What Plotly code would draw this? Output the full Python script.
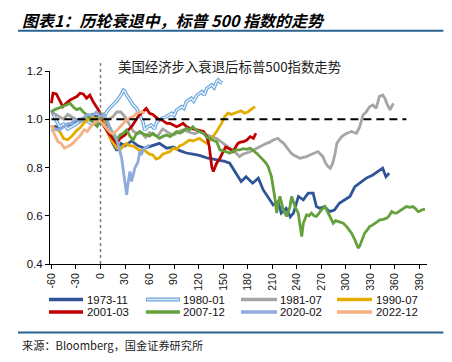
import plotly.graph_objects as go

# ---------------- data (x: trading days from recession start, y: S&P500 relative level)
s1973_11 = [(-60,0.96),(-55,0.97),(-50,0.96),(-45,0.97),(-40,0.98),(-35,0.97),(-30,0.99),(-25,1.0),(-20,1.0),(-15,1.01),(-10,1.02),(-5,1.01),(0,1.02),(5,0.99),(10,0.94),(15,0.9),(20,0.87),(25,0.9),(30,0.89),(38,0.91),(46,0.89),(54,0.88),(64,0.89),(72,0.9),(81,0.88),(89,0.885),(97,0.87),(105,0.86),(113,0.855),(121,0.85),(130,0.84),(138,0.835),(146,0.831),(152,0.825),(158,0.818),(166,0.776),(172,0.742),(178,0.762),(186,0.735),(193,0.756),(199,0.707),(207,0.666),(211,0.645),(217,0.659),(221,0.611),(227,0.631),(232,0.595),(236,0.611),(242,0.68),(248,0.666),(254,0.694),(260,0.694),(264,0.638),(268,0.631),(274,0.638),(280,0.617),(286,0.624),(292,0.652),(298,0.666),(305,0.68),(311,0.721),(317,0.735),(325,0.756),(333,0.769),(339,0.783),(345,0.797),(349,0.762),(353,0.776)]

s1980_01 = [(-60,1.04),(-55,1.0),(-50,0.97),(-45,0.98),(-40,0.96),(-35,0.97),(-30,0.98),(-25,0.99),(-20,1.0),(-15,0.99),(-10,0.98),(-5,0.99),(0,1.0),(3,1.004),(9,1.038),(15,1.059),(21,1.08),(25,1.1),(28,1.12),(30,1.115),(32,1.1),(36,1.08),(40,1.059),(44,1.045),(48,1.018),(52,0.99),(54,0.955),(58,0.969),(62,0.976),(66,0.96),(69,0.99),(75,1.004),(81,1.011),(87,1.025),(90,1.015),(93,1.038),(99,1.052),(102,1.045),(105,1.073),(111,1.087),(114,1.075),(118,1.1),(124,1.114),(127,1.1),(130,1.128),(136,1.142),(139,1.13),(142,1.156),(144,1.163),(146,1.155),(149,1.15)]

s1981_07 = [(-60,1.03),(-55,1.02),(-50,1.01),(-45,1.0),(-40,1.02),(-35,1.01),(-30,1.0),(-25,0.99),(-20,1.0),(-15,1.01),(-10,1.0),(-5,1.0),(0,1.0),(5,1.0),(10,1.0),(15,1.01),(20,1.03),(25,1.03),(30,1.01),(35,0.98),(40,0.95),(45,0.94),(50,0.945),(55,0.925),(60,0.945),(65,0.935),(70,0.93),(76,0.96),(80,0.95),(85,0.94),(90,0.935),(96,0.95),(101,0.956),(105,0.95),(110,0.945),(115,0.94),(121,0.949),(126,0.94),(130,0.935),(138,0.928),(142,0.92),(146,0.91),(150,0.9),(154,0.887),(158,0.88),(162,0.873),(166,0.86),(170,0.845),(174,0.855),(179,0.859),(183,0.865),(187,0.873),(191,0.88),(195,0.887),(199,0.895),(203,0.9),(207,0.905),(211,0.914),(217,0.921),(220,0.91),(224,0.9),(227,0.885),(230,0.873),(233,0.86),(236,0.852),(240,0.845),(244,0.838),(248,0.842),(252,0.845),(256,0.852),(260,0.859),(263,0.862),(266,0.866),(269,0.855),(272,0.845),(275,0.82),(278,0.805),(281,0.797),(284,0.818),(287,0.86),(289,0.9),(292,0.915),(295,0.928),(298,0.935),(301,0.942),(304,0.945),(307,0.949),(310,0.945),(313,0.942),(317,0.969),(319,0.995),(321,1.018),(325,1.031),(329,1.052),(333,1.059),(337,1.045),(341,1.094),(345,1.1),(348,1.085),(350,1.066),(354,1.039),(358,1.066)]

s1990_07 = [(-60,0.97),(-55,0.96),(-50,0.95),(-45,0.92),(-40,0.915),(-35,0.93),(-30,0.95),(-25,0.965),(-20,0.985),(-15,1.0),(-10,1.01),(-5,1.0),(0,1.01),(4,0.99),(8,0.95),(12,0.92),(16,0.9),(20,0.88),(24,0.873),(28,0.89),(32,0.9),(36,0.89),(40,0.89),(44,0.88),(48,0.87),(52,0.873),(56,0.866),(60,0.855),(64,0.852),(68,0.835),(72,0.84),(76,0.855),(81,0.86),(85,0.866),(89,0.88),(93,0.875),(97,0.89),(101,0.895),(105,0.905),(109,0.914),(113,0.91),(117,0.915),(121,0.921),(125,0.91),(130,0.9),(133,0.91),(136,0.921),(139,0.935),(142,0.949),(145,0.965),(148,0.983),(152,1.011),(156,1.025),(160,1.02),(164,1.025),(168,1.031),(172,1.035),(176,1.025),(180,1.03),(183,1.038),(186,1.045),(189,1.052)]

s2001_03 = [(-60,1.066),(-58,1.108),(-54,1.105),(-50,1.08),(-46,1.052),(-42,1.066),(-37,1.08),(-33,1.087),(-29,1.094),(-25,1.108),(-21,1.105),(-17,1.087),(-13,1.1),(-9,1.073),(-5,1.052),(-1,1.031),(2,0.983),(6,0.96),(10,0.942),(15,0.921),(20,0.9),(24,0.921),(30,0.935),(34,0.955),(38,0.969),(42,0.99),(46,1.011),(50,1.025),(53,1.035),(56,1.045),(60,1.025),(64,1.02),(67,1.011),(71,1.0),(75,0.997),(78,0.99),(81,0.983),(85,0.983),(89,0.975),(93,0.969),(97,0.975),(101,0.983),(105,0.97),(109,0.963),(113,0.96),(117,0.956),(121,0.952),(126,0.949),(130,0.928),(133,0.887),(136,0.804),(138,0.783),(142,0.818),(146,0.838),(150,0.866),(153,0.885),(156,0.88),(159,0.875),(162,0.866),(165,0.885),(168,0.9),(171,0.905),(175,0.907),(179,0.914),(183,0.928),(187,0.921),(190,0.942)]

s2007_12 = [(-60,1.03),(-56,1.04),(-52,1.045),(-48,1.05),(-44,1.055),(-40,1.06),(-37,1.066),(-33,1.05),(-29,1.04),(-25,1.045),(-21,1.03),(-17,1.02),(-13,1.0),(-10,0.99),(-7,0.98),(-4,0.97),(-1,0.99),(3,1.025),(7,1.0),(11,0.969),(15,0.94),(20,0.914),(24,0.935),(28,0.942),(32,0.956),(36,0.93),(40,0.914),(44,0.94),(48,0.949),(52,0.94),(56,0.935),(60,0.93),(64,0.942),(68,0.93),(72,0.921),(77,0.93),(81,0.935),(85,0.928),(89,0.94),(93,0.949),(97,0.942),(101,0.95),(105,0.963),(109,0.956),(113,0.969),(117,0.955),(121,0.949),(126,0.942),(130,0.925),(134,0.921),(138,0.912),(142,0.907),(146,0.873),(150,0.87),(154,0.865),(158,0.859),(162,0.868),(166,0.873),(170,0.873),(175,0.878),(179,0.875),(183,0.88),(187,0.87),(191,0.859),(195,0.845),(199,0.831),(202,0.82),(205,0.804),(209,0.762),(211,0.72),(213,0.68),(215.4,0.611),(217,0.65),(219.4,0.68),(221.5,0.65),(223.5,0.624),(227.6,0.597),(229.6,0.62),(231.7,0.638),(233.7,0.68),(235.7,0.66),(237.8,0.638),(241.8,0.611),(244,0.56),(246,0.514),(248,0.569),(252,0.604),(255,0.6),(258,0.611),(261,0.6),(264,0.597),(267,0.61),(270,0.624),(274.5,0.638),(278.5,0.611),(281.5,0.59),(284.6,0.569),(287.6,0.58),(290.7,0.576),(293.7,0.572),(296.8,0.569),(301,0.555),(304,0.54),(307,0.528),(311,0.5),(313,0.48),(315,0.466),(317,0.475),(319,0.493),(321,0.51),(323,0.528),(326,0.54),(329,0.555),(332,0.56),(335.6,0.569),(338.6,0.575),(341.7,0.583),(346,0.585),(350,0.59),(353,0.6),(356,0.617),(359,0.612),(362,0.611),(365,0.618),(368,0.624),(371,0.63),(374,0.638),(378,0.635),(382,0.638),(385,0.63),(388.5,0.617),(390.6,0.62),(392.6,0.624),(396.7,0.627)]

s2020_02 = [(-60,0.95),(-55,0.96),(-50,0.955),(-45,0.97),(-40,0.98),(-35,0.985),(-30,1.0),(-25,0.995),(-20,1.01),(-15,1.02),(-10,1.015),(-5,1.03),(0,1.01),(4,1.02),(8,0.99),(11.6,0.963),(14,0.95),(17.7,0.935),(21.8,0.894),(25.9,0.838),(27.9,0.783),(30,0.742),(32,0.687),(34,0.742),(36,0.783),(38,0.742),(40,0.769),(42,0.797),(44,0.811),(46,0.824),(48,0.866),(50,0.852),(52,0.873),(56.5,0.887),(60,0.894)]

s2022_12 = [(-60,0.976),(-56,0.935),(-52,0.907),(-48,0.9),(-44,0.88),(-40,0.887),(-36,0.894),(-32,0.907),(-28,0.921),(-24,0.935),(-20,0.956),(-16,0.949),(-12,0.969),(-8,0.983),(-4,0.997),(0,0.99),(4,0.975),(8,0.96),(12,0.945),(16,0.94),(20,0.955),(24,0.97),(28,0.985),(32,0.997),(36,1.005),(40,1.011),(44,1.025),(48,1.03),(51,1.031),(54,1.025)]

series_names = ["1973-11", "1980-01", "1981-07", "1990-07", "2001-03", "2007-12", "2020-02", "2022-12"]
series_data = [s1973_11, s1980_01, s1981_07, s1990_07, s2001_03, s2007_12, s2020_02, s2022_12]
series_colors = ["#2F5597", "#6FA8DC", "#A5A5A5", "#E5AC00", "#C00000", "#64A03C", "#8FAADC", "#F4B183"]

x_ticks = list(range(-60, 391, 30))
y_ticks = [0.4, 0.6, 0.8, 1.0, 1.2]
ref_level = 1.0
ref_end = 374

title_text = "图表1：历轮衰退中，标普 500 指数的走势"
inner_title = "美国经济步入衰退后标普500指数走势"
source_text = "来源：Bloomberg，国金证券研究所"

# ---------------- layout geometry (window pixels; page body has an 8px margin)
OFF = 8
W, H = 452 - 2 * OFF, 362 - 2 * OFF
L, R, T, B = 50, 427, 71, 264   # plot area in window pixels


def pxx(p):
    return (p - L) / (R - L)


def pxy(p):
    return (B - p) / (B - T)


fig = go.Figure()

for name, data, col in zip(series_names, series_data, series_colors):
    xs = [d[0] for d in data]
    ys = [d[1] for d in data]
    if name == "1980-01":
        fig.add_trace(go.Scatter(x=xs, y=ys, mode="lines", line=dict(color=col, width=3.6),
                                 showlegend=False, hoverinfo="skip"))
        fig.add_trace(go.Scatter(x=xs, y=ys, mode="lines", line=dict(color="#F2F7FC", width=1.2),
                                 showlegend=False, hoverinfo="skip"))
    else:
        fig.add_trace(go.Scatter(x=xs, y=ys, mode="lines", line=dict(color=col, width=2.8),
                                 showlegend=False, hoverinfo="skip"))

shapes = []
shapes.append(dict(type="line", xref="x", yref="y", x0=-60, x1=ref_end, y0=ref_level, y1=ref_level,
                   line=dict(color="black", width=2, dash="8px,5px"), layer="above"))
shapes.append(dict(type="line", xref="x", yref="paper", x0=0, x1=0, y0=0, y1=pxy(60),
                   line=dict(color="#808080", width=1.5, dash="3px,3px"), layer="above"))
for yy in (30.7, 332.5):
    shapes.append(dict(type="line", xref="paper", yref="paper", x0=pxx(18), x1=pxx(443), y0=pxy(yy), y1=pxy(yy),
                       line=dict(color="#2B6391", width=2)))
    shapes.append(dict(type="line", xref="paper", yref="paper", x0=pxx(443), x1=pxx(452), y0=pxy(yy), y1=pxy(yy),
                       line=dict(color="#A9C4DC", width=2)))

annotations = []
annotations.append(dict(text="<b><i>" + title_text + "</i></b>", xref="paper", yref="paper",
                        x=pxx(21), y=pxy(19.8), xanchor="left", yanchor="middle", showarrow=False, borderpad=0,
                        font=dict(family="Noto Sans CJK SC", size=16, color="black")))
annotations.append(dict(text=inner_title, xref="paper", yref="paper", x=pxx(229), y=pxy(66),
                        xanchor="center", yanchor="middle", showarrow=False, borderpad=0,
                        font=dict(family="Noto Sans CJK SC", size=13.4, color="#222222")))
annotations.append(dict(text=source_text, xref="paper", yref="paper", x=pxx(21), y=pxy(345),
                        xanchor="left", yanchor="middle", showarrow=False, borderpad=0,
                        font=dict(family="Noto Sans CJK SC", size=11.2, color="#222222")))

leg_cols = [(49, 83, 86), (146, 180, 182), (241, 277, 279), (337, 372, 375)]
leg_rows = [299.5, 312]
for i, (name, col) in enumerate(zip(series_names, series_colors)):
    r, c = divmod(i, 4)
    x0, x1, xt = leg_cols[c]
    yy = leg_rows[r]
    if name == "1980-01":
        shapes.append(dict(type="line", xref="paper", yref="paper", x0=pxx(x0), x1=pxx(x1), y0=pxy(yy), y1=pxy(yy),
                           line=dict(color=col, width=4)))
        shapes.append(dict(type="line", xref="paper", yref="paper", x0=pxx(x0 + 1), x1=pxx(x1 - 1), y0=pxy(yy), y1=pxy(yy),
                           line=dict(color="#DDEBF7", width=1.5)))
    else:
        shapes.append(dict(type="line", xref="paper", yref="paper", x0=pxx(x0), x1=pxx(x1), y0=pxy(yy), y1=pxy(yy),
                           line=dict(color=col, width=3.5)))
    annotations.append(dict(text=name, xref="paper", yref="paper", x=pxx(xt), y=pxy(yy),
                            xanchor="left", yanchor="middle", showarrow=False, borderpad=0,
                            font=dict(family="Liberation Sans", size=11.4, color="#111111")))

fig.update_layout(
    width=W, height=H,
    margin=dict(l=L - OFF, r=(W + OFF) - R, t=T - OFF, b=(H + OFF) - B, pad=0),
    paper_bgcolor="white", plot_bgcolor="white",
    shapes=shapes, annotations=annotations,
    showlegend=False,
    font=dict(family="Liberation Sans", color="#111111"),
)
fig.update_xaxes(range=[-61.7, 399.2], tickvals=x_ticks, ticktext=[str(v) for v in x_ticks],
                 tickangle=-90, ticks="outside", ticklen=4, tickcolor="black",
                 showline=True, linecolor="black", linewidth=1, showgrid=False, zeroline=False,
                 tickfont=dict(size=10.5, family="Liberation Sans", color="#111111"))
fig.update_yaxes(range=[0.4, 1.2], tickvals=y_ticks, ticktext=[f"{v:.1f}" for v in y_ticks],
                 ticks="outside", ticklen=4, tickcolor="black",
                 showline=True, linecolor="black", linewidth=1, showgrid=False, zeroline=False,
                 tickfont=dict(size=11.5, family="Liberation Sans", color="#111111"))

fig.write_html("out.html")
